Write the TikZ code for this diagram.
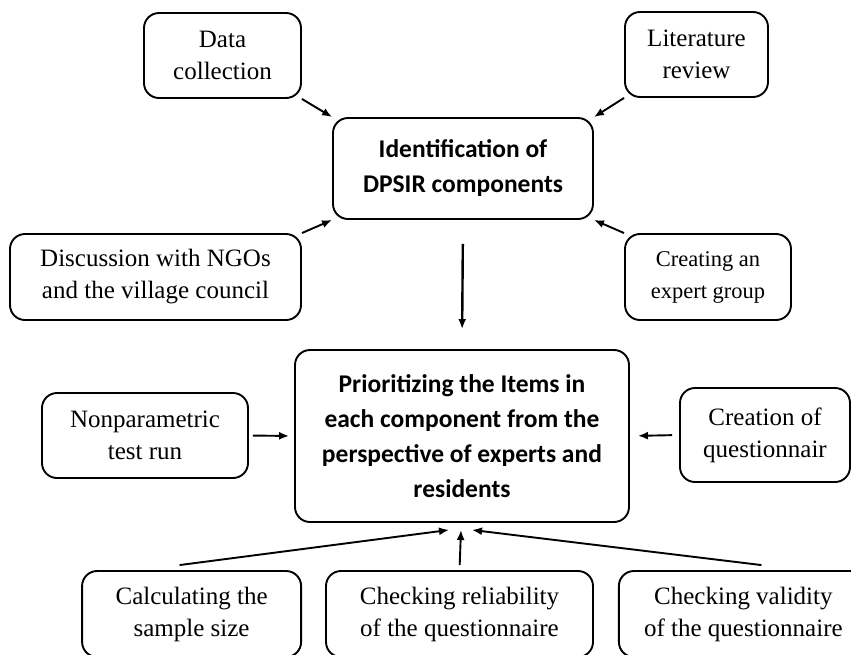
\documentclass[tikz,border=0pt]{standalone}
\usepackage{fontspec}
\setmainfont{Liberation Serif}
\newfontfamily\headfont{Carlito}
\usepackage{tikz}
\usetikzlibrary{arrows.meta, positioning, calc}

\begin{document}
\begin{tikzpicture}[
    x=1pt, y=-1pt,
    node distance=23pt and 23pt,
    box/.style={rectangle, draw, rounded corners=15pt, line width=1.9pt, align=center,
        inner sep=0pt, font=\fontsize{25}{32}\selectfont},
    mainbox/.style={box, font=\headfont\bfseries\fontsize{25.5}{35}\selectfont},
    arrow/.style={-{Latex[length=10pt, width=8pt]}, line width=1.9pt}
]
\useasboundingbox (0,0) rectangle (851,654);
\clip (0,0) rectangle (851,654);

% Boxes
\node[mainbox, minimum width=260pt, minimum height=101pt] (ident) at (463,168.5) {Identification of\\DPSIR components};
\node[box, minimum width=157pt, minimum height=85pt] (data) at (222.5,55.5) {Data\\collection};
\node[box, minimum width=143pt, minimum height=85pt] (lit) at (696.5,54.5) {Literature\\review};
\node[box, minimum width=291pt, minimum height=86pt] (disc) at (155.5,277) {Discussion with NGOs\\and the village council};
\node[box, minimum width=166pt, minimum height=86pt, font=\fontsize{22.5}{32}\selectfont] (expert) at (708,277) {Creating an\\expert group};

\node[mainbox, minimum width=334pt, minimum height=172pt] (prior) at (462,436) {Prioritizing the Items in\\each component from the\\perspective of experts and\\residents};
\node[box, minimum width=206pt, minimum height=85pt] (nonpar) at (145,435.5) {Nonparametric\\test run};
\node[box, minimum width=170pt, minimum height=94pt] (quest) at (765,435) {Creation of\\questionnair};

\node[box, minimum width=267pt, minimum height=86pt] (rel) at (459.5,614) {Checking reliability\\of the questionnaire};
\node[box, minimum width=219pt, minimum height=86pt, left=of rel] (calc) {Calculating the\\sample size};
\node[box, minimum width=249pt, minimum height=86pt, right=24pt of rel] (val) {Checking validity\\of the questionnaire};

% Arrow ends
\coordinate (inl) at ($(prior.south)+(-13,7)$);
\coordinate (inm) at ($(prior.south)+(-1,7)$);
\coordinate (inr) at ($(prior.south)+(10,7)$);

% Arrows
\draw[arrow] (data.south east) -- (ident.north west);
\draw[arrow] (lit.south west) -- (ident.north east);
\draw[arrow] (disc.north east) -- (ident.south west);
\draw[arrow] (expert.north west) -- (ident.south east);
\draw[arrow, line width=2.4pt, shorten <=24pt, shorten >=20pt] (ident.south) -- (prior.north);
\draw[arrow, shorten <=4pt, shorten >=5pt] (nonpar.east) -- (prior.west);
\draw[arrow, shorten <=7pt, shorten >=8pt] (quest.west) -- (prior.east);
\draw[arrow] ($(calc.north)+(-12,-5)$) -- (inl);
\draw[arrow, shorten <=5pt] (rel.north) -- (inm);
\draw[arrow] ($(val.north)+(18,-5)$) -- (inr);

\end{tikzpicture}
\end{document}
